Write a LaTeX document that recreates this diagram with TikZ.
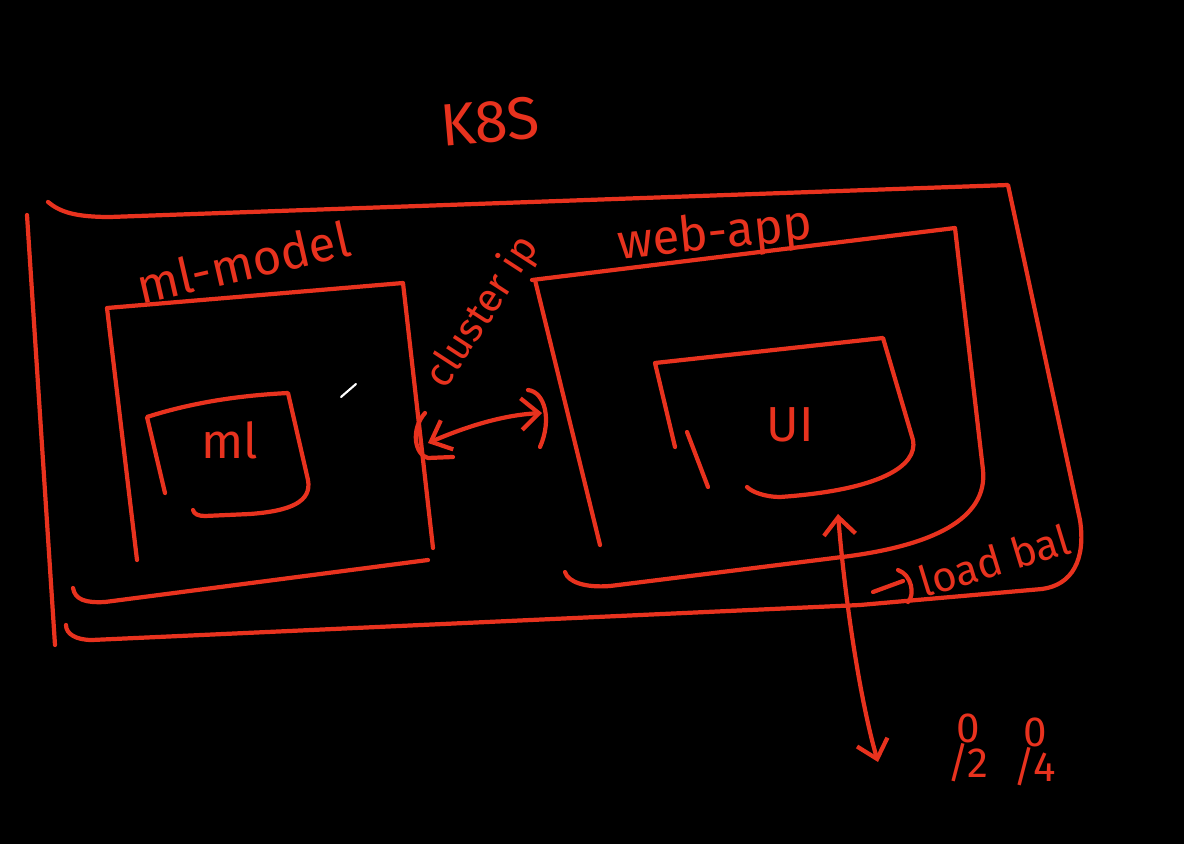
\documentclass[tikz,border=0pt]{standalone}
\usepackage{fontspec}
\setmainfont{Fira Sans}
\usetikzlibrary{arrows.meta}
\definecolor{ink}{HTML}{E8321E}
\begin{document}
\begin{tikzpicture}[x=0.02cm,y=-0.02cm,
  pen/.style={draw=ink,line width=2.4pt,line cap=round,line join=round},
  lbl/.style={text=ink,font=\fontsize{28}{30}\selectfont,inner sep=0pt},
  >={Straight Barb[length=10pt,width=18pt]}]
\fill[black] (0,0) rectangle (1184,844);
\useasboundingbox (0,0) rectangle (1184,844);

% outer cluster (K8S)
\draw[pen] (27,215) -- (55,645);
\draw[pen] (48,202) .. controls (60,212) and (75,217) .. (110,217) -- (1008,185) -- (1080,520)
  .. controls (1086,560) and (1072,585) .. (1042,589) -- (860,605) -- (92,640)
  .. controls (76,640) and (66,634) .. (66,625);

% ml-model box
\draw[pen] (137,560) -- (107,308) -- (403,283) -- (433,548);
\draw[pen] (73,588) .. controls (75,600) and (86,603) .. (105,602) -- (428,560);

% web-app box
\draw[pen] (600,545) -- (535,280);
\draw[pen] (532,280) -- (955,228) -- (983,470) .. controls (988,520) and (930,545) .. (850,556)
  -- (610,586) .. controls (585,588) and (568,582) .. (565,572);

% ML box
\draw[pen] (165,493) -- (147,417) .. controls (200,400) and (250,395) .. (288,393) -- (308,480)
  .. controls (312,502) and (290,511) .. (250,514) -- (205,516) .. controls (198,516) and (194,514) .. (193,510);

% UI box
\draw[pen] (675,447) -- (655,363) -- (883,338) -- (913,440)
  .. controls (918,466) and (880,490) .. (780,497) .. controls (765,497) and (752,492) .. (747,487);
\draw[pen] (687,432) -- (708,487);

% labels
\node[lbl,rotate=5,font=\fontsize{34}{36}\selectfont] (k8s) at (490,122) {K8S};
\node[lbl,rotate=13] (mlmodel) at (243,262) {ml-model};
\node[lbl,rotate=57,font=\fontsize{23}{25}\selectfont] (clip) at (483,312) {cluster ip};
\node[lbl,rotate=6] (webapp) at (715,236) {web-app};
\node[lbl] (ml) at (230,440) {ml};
\node[lbl] (ui) at (790,425) {UI};
\node[lbl,rotate=17,anchor=west,font=\fontsize{24}{26}\selectfont] (lb) at (920,583) {load bal};
\node[lbl,align=center,font=\fontsize{24}{20}\selectfont] (u1) at (968,748) {0\\/2};
\node[lbl,align=center,font=\fontsize{24}{20}\selectfont] (u2) at (1035,752) {0\\/4};

% cluster-ip double arrow between ml-model and web-app
\coordinate (a1) at (428,443);
\coordinate (a2) at (542,413);
\draw[pen,<->] (a1) .. controls (470,425) and (505,415) .. (a2);
\draw[pen] (425,413) .. controls (410,430) and (415,455) .. (428,458) -- (453,457);
\draw[pen] (528,390) .. controls (545,392) and (552,420) .. (540,447);

% load balancer arrow to users
\coordinate (lbtop) at (838,514);
\coordinate (usr) at (878,762);
\draw[pen,<->] (lbtop) .. controls (845,600) and (860,700) .. (usr);
\draw[pen] (873,592) -- (903,581);
\draw[pen] (898,570) .. controls (912,575) and (915,595) .. (908,602);

% cursor mark
\draw[white,line width=1.2pt,line cap=round] (341,397) -- (356,384);
\end{tikzpicture}
\end{document}
